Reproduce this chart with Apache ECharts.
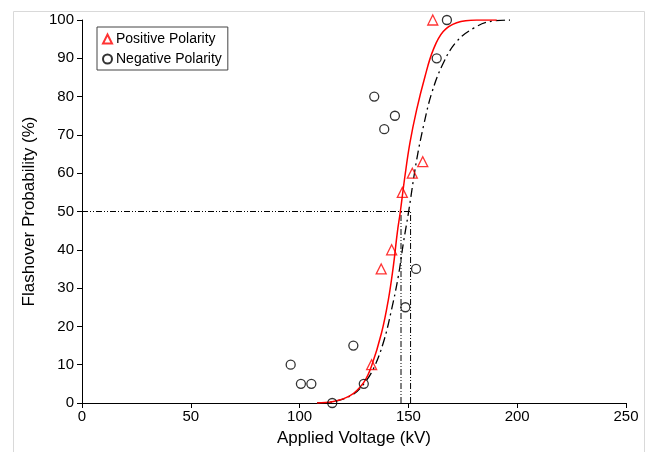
<!DOCTYPE html>
<html>
<head>
<meta charset="utf-8">
<script src="https://cdn.jsdelivr.net/npm/echarts@6/dist/echarts.min.js"></script>
<style>
html,body{margin:0;padding:0;background:#fff;}
#c{width:649px;height:452px;}
</style>
</head>
<body>
<div id="c"></div>
<script>
// Measured points
const posV = [161.2, 156.6, 151.8, 147.2, 142.3, 137.5, 133.1];
const posP = [100, 63, 60, 55, 40, 35, 10];
const negV = [167.7, 163.0, 134.3, 143.8, 138.9, 153.5, 148.6, 124.7, 95.9, 100.6, 105.4, 129.5, 115.0];
const negP = [100, 90, 80, 75, 71.5, 35, 25, 15, 10, 5, 5, 5, 0];

// Fitted curves
const posCurveV = [108, 115, 123.2, 129.5, 133.1, 137.7, 140.8, 143.1, 144.9, 146.3, 148.4, 150.7, 153.8, 157.6, 161.4, 166, 172.2, 181.4, 190.6];
const posCurveP = [0, 0.3, 1.9, 5.4, 9.7, 18.4, 27, 35.8, 44.5, 50, 59.2, 67.9, 76.6, 85.2, 92.2, 97, 99.3, 100, 100];
const negCurveV = [108, 115, 124.7, 129.5, 133.9, 138.5, 142.3, 145.4, 147.7, 150, 153.8, 156.9, 160.7, 166, 172.2, 179.8, 187.5, 196.7];
const negCurveP = [0, 0.3, 2.3, 5, 8.9, 15.8, 24.5, 33.2, 41.8, 49.6, 63.5, 72.2, 80.9, 88.7, 94.4, 97.8, 99.6, 100];

// 50% reference
const level50 = 50;
const v50Pos = 146.6;
const v50Neg = 151.0;

const xTicks = {min: 0, max: 250, interval: 50};
const yTicks = {min: 0, max: 100, interval: 10};

const zip = (a, b) => a.map((v, i) => [v, b[i]]);

const chart = echarts.init(document.getElementById('c'), null, {renderer: 'canvas'});
const font = 'Liberation Sans, Arial, sans-serif';
chart.setOption({
  animation: false,
  backgroundColor: '#fff',
  textStyle: {fontFamily: font},
  graphic: [{
    type: 'rect', shape: {x: 13.5, y: 11.5, width: 631, height: 460},
    style: {fill: 'none', stroke: '#d9d9d9', lineWidth: 1}, silent: true, z: -1
  }],
  grid: {left: 82, right: 23, top: 20, bottom: 48, containLabel: false},
  legend: {
    data: ['Positive Polarity', 'Negative Polarity'],
    orient: 'vertical',
    left: 97, top: 27,
    itemWidth: 9, itemHeight: 9, itemGap: 6,
    padding: [5, 6, 4, 5],
    borderColor: '#444', borderWidth: 1, borderRadius: 0,
    backgroundColor: '#fff',
    textStyle: {fontFamily: font, fontSize: 14, color: '#000', padding: [0, 0, 0, -1]}
  },
  xAxis: {
    type: 'value', min: xTicks.min, max: xTicks.max, interval: xTicks.interval,
    name: 'Applied Voltage (kV)', nameLocation: 'middle', nameGap: 27,
    nameTextStyle: {fontFamily: font, fontSize: 17, color: '#000'},
    axisLine: {lineStyle: {color: '#000', width: 1}},
    axisTick: {show: true, length: 5, lineStyle: {color: '#000'}},
    axisLabel: {fontFamily: font, fontSize: 15, color: '#000', margin: 6},
    splitLine: {show: false}
  },
  yAxis: {
    type: 'value', min: yTicks.min, max: yTicks.max, interval: yTicks.interval,
    name: 'Flashover Probability (%)', nameLocation: 'middle', nameGap: 44,
    nameTextStyle: {fontFamily: font, fontSize: 17, color: '#000'},
    axisLine: {show: true, lineStyle: {color: '#000', width: 1}},
    axisTick: {show: true, length: 5, lineStyle: {color: '#000'}},
    axisLabel: {fontFamily: font, fontSize: 15, color: '#000', margin: 8},
    splitLine: {show: false}
  },
  series: [
    {
      name: 'ref50', type: 'line', data: [[xTicks.min, level50], [v50Neg, level50]],
      symbol: 'none', lineStyle: {color: '#000', width: 1, type: [6, 2, 1, 2, 1, 2]}, z: 1
    },
    {
      name: 'refPos', type: 'line', data: [[v50Pos, 0], [v50Pos, level50]],
      symbol: 'none', lineStyle: {color: '#000', width: 1, type: [6, 2, 1, 2, 1, 2]}, z: 1
    },
    {
      name: 'refNeg', type: 'line', data: [[v50Neg, 0], [v50Neg, level50]],
      symbol: 'none', lineStyle: {color: '#000', width: 1, type: [6, 2, 1, 2, 1, 2]}, z: 1
    },
    {
      name: 'negFit', type: 'line', data: zip(negCurveV, negCurveP), smooth: 0.4,
      symbol: 'none', lineStyle: {color: '#000', width: 1.3, type: [9, 4, 2, 4]}, z: 2
    },
    {
      name: 'posFit', type: 'line', data: zip(posCurveV, posCurveP), smooth: 0.4,
      symbol: 'none', lineStyle: {color: '#ff0000', width: 1.5}, z: 3
    },
    {
      name: 'Positive Polarity', type: 'scatter', data: zip(posV, posP),
      symbol: 'triangle', symbolSize: 10,
      itemStyle: {color: 'rgba(255,255,255,0)', borderColor: '#ff0000', borderWidth: 1.3}, z: 5
    },
    {
      name: 'Negative Polarity', type: 'scatter', data: zip(negV, negP),
      symbol: 'circle', symbolSize: 9,
      itemStyle: {color: 'rgba(255,255,255,0)', borderColor: '#000', borderWidth: 1.3}, z: 5
    }
  ]
});
</script>
</body>
</html>
